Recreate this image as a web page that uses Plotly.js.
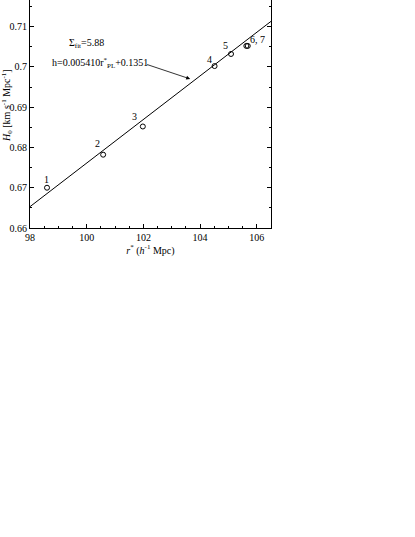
<!DOCTYPE html>
<html>
<head>
<meta charset="utf-8">
<script src="https://cdn.plot.ly/plotly-3.0.1.min.js"></script>
<style>
  html, body { margin: 0; padding: 0; background: #fff; }
  #graph { width: 415px; height: 537px; }
</style>
</head>
<body>
<div id="graph"></div>
<script>
const rValues = [98.6, 100.58, 101.98, 104.51, 105.09, 105.63, 105.68];
const hValues = [0.670, 0.6782, 0.6852, 0.7002, 0.7032, 0.7052, 0.7052];

// point labels: which point they sit next to, and the text
const labelIndex = [0, 1, 2, 3, 4, 6];
const labelText = ['1', '2', '3', '4', '5', '6, 7'];
const labelShiftX = [-1, -6, -8, -5, -6, 10];
const labelShiftY = [8, 11, 10, 7, 8, 6];

// linear fit h = 0.005410 r + 0.1351, end points
const fitX = [98, 106.5];
const fitY = [0.6653, 0.7113];

const xTicks = [98, 100, 102, 104, 106];
const yTicks = [0.66, 0.67, 0.68, 0.69, 0.7, 0.71];

const font = {family: 'Liberation Serif, Times New Roman, serif', size: 10, color: '#000'};

function drawGraph() {
    const fitTrace = {
        x: fitX,
        y: fitY,
        mode: 'lines',
        line: {color: '#000', width: 1},
        hoverinfo: 'none',
    };

    const pointTrace = {
        x: rValues,
        y: hValues,
        mode: 'markers',
        marker: {
            symbol: 'circle-open',
            size: 5,
            color: '#000',
            line: {width: 1, color: '#000'},
        },
        hoverinfo: 'none',
    };

    let annotations = labelIndex.map((idx, i) => ({
        x: rValues[idx],
        y: hValues[idx],
        text: labelText[i],
        showarrow: false,
        xshift: labelShiftX[i],
        yshift: labelShiftY[i],
        font: font,
    }));

    annotations.push({
        x: 99.98,
        y: 0.7059,
        text: 'Σ<sub>fit</sub>=5.88',
        showarrow: false,
        font: font,
    });

    annotations.push({
        x: 100.46,
        y: 0.7009,
        text: 'h=0.005410r<sup>*</sup><sub>PL</sub>+0.1351',
        showarrow: false,
        font: font,
    });

    // arrow from the fit equation to the line
    annotations.push({
        x: 103.65,
        y: 0.697,
        ax: 102.08,
        ay: 0.7007,
        axref: 'x',
        ayref: 'y',
        text: '',
        showarrow: true,
        arrowhead: 2,
        arrowsize: 1,
        arrowwidth: 0.8,
        arrowcolor: '#000',
    });

    // y axis title, placed by hand
    annotations.push({
        xref: 'paper',
        yref: 'y',
        x: 0,
        y: 0.6903,
        xanchor: 'center',
        yanchor: 'middle',
        xshift: -23,
        text: '<i>H</i><sub>0</sub> [km s<sup>-1</sup> Mpc<sup>-1</sup>]',
        textangle: -90,
        showarrow: false,
        font: font,
    });

    const layout = {
        width: 415,
        height: 537,
        paper_bgcolor: '#fff',
        plot_bgcolor: '#fff',
        font: font,
        showlegend: false,
        margin: {l: 30, r: 144, t: 0, b: 309},
        xaxis: {
            range: [98, 106.5],
            tickvals: xTicks,
            ticks: 'inside',
            ticklen: 4,
            tickcolor: '#000',
            showline: true,
            linecolor: '#000',
            linewidth: 1,
            mirror: false,
            showgrid: false,
            zeroline: false,
            minor: {dtick: 0.5, ticks: 'inside', ticklen: 2, tickcolor: '#000'},
            title: {text: '<i>r</i><sup>*</sup> (<i>h</i><sup>-1</sup> Mpc)', font: font, standoff: 4},
            tickfont: font,
        },
        yaxis: {
            range: [0.66, 0.7166],
            tickvals: yTicks,
            ticks: 'inside',
            ticklen: 4,
            tickcolor: '#000',
            showline: true,
            linecolor: '#000',
            linewidth: 1,
            mirror: 'ticks',
            showgrid: false,
            zeroline: false,
            minor: {dtick: 0.005, ticks: 'inside', ticklen: 2, tickcolor: '#000'},
            tickfont: font,
        },
        annotations: annotations,
    };

    Plotly.newPlot('graph', [fitTrace, pointTrace], layout, {displayModeBar: false, staticPlot: true});
}

drawGraph();
</script>
</body>
</html>
